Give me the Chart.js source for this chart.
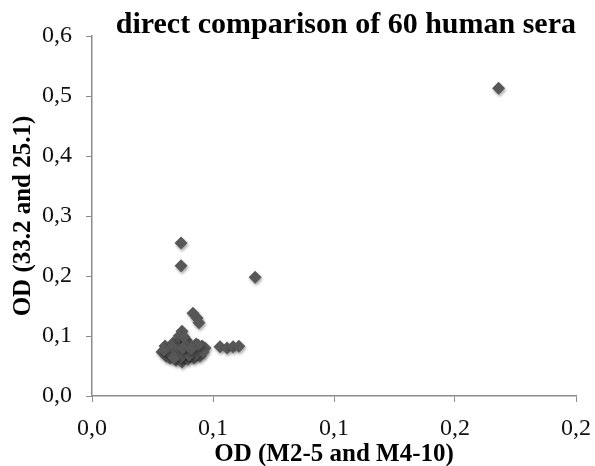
<!DOCTYPE html>
<html lang="en">
<head>
  <meta charset="UTF-8" />
  <title>direct comparison of 60 human sera</title>
  <script src="https://cdn.jsdelivr.net/npm/chart.js"></script>
  <style>
    html, body { margin: 0; padding: 0; background: #fff; }
    #wrap { width: 595px; height: 466px; }
  </style>
</head>
<body>
  <div id="wrap"><canvas id="chart"></canvas></div>

  <script>
    // OD values, M2-5 and M4-10 (x) vs 33.2 and 25.1 (y)
    const odX = [
      0.168, 0.0368, 0.0368, 0.0674, 0.0417, 0.0434, 0.0442, 0.0372,
      0.0529, 0.0558, 0.0583, 0.0607,
      0.0289, 0.0302, 0.0306, 0.0322, 0.0322, 0.0335, 0.0339, 0.0347,
      0.0355, 0.0355, 0.0364, 0.0368, 0.0372, 0.0376, 0.038, 0.0388,
      0.0393, 0.0397, 0.0405, 0.0409, 0.0417, 0.0421, 0.043, 0.0434,
      0.0442, 0.0446, 0.0455, 0.0467, 0.0314, 0.0343, 0.0384, 0.0413,
      0.0397, 0.036, 0.038, 0.0331, 0.0426, 0.0459, 0.0351, 0.0388,
      0.0368, 0.0401, 0.0326, 0.0438, 0.0298, 0.0339, 0.0376, 0.0409
    ];
    const odY = [
      0.513, 0.255, 0.217, 0.198, 0.138, 0.130, 0.122, 0.108,
      0.082, 0.080, 0.082, 0.083,
      0.0733, 0.0833, 0.0667, 0.0783, 0.0633, 0.0883, 0.0717, 0.060,
      0.0833, 0.0683, 0.0933, 0.0767, 0.0567, 0.085, 0.0667, 0.0933,
      0.0767, 0.0617, 0.085, 0.070, 0.080, 0.0633, 0.0867, 0.0733,
      0.080, 0.0667, 0.0833, 0.080, 0.0733, 0.0783, 0.0717, 0.075,
      0.0883, 0.100, 0.0983, 0.0817, 0.0683, 0.0733, 0.075, 0.0833,
      0.065, 0.0683, 0.070, 0.085, 0.0767, 0.0633, 0.080, 0.0783
    ];
    const xTickLabels = ["0,0", "0,1", "0,1", "0,2", "0,2"];
    const yTickLabels = ["0,0", "0,1", "0,2", "0,3", "0,4", "0,5", "0,6"];

    const points = odX.map((x, i) => ({ x: x, y: odY[i] }));

    // soft drop shadow under the diamonds, like the original
    const markerShadow = {
      id: "markerShadow",
      beforeDatasetsDraw(chart) {
        const c = chart.ctx;
        c.save();
        c.shadowColor = "rgba(0,0,0,0.35)";
        c.shadowBlur = 3;
        c.shadowOffsetX = 1;
        c.shadowOffsetY = 2;
      },
      afterDatasetsDraw(chart) {
        chart.ctx.restore();
      }
    };

    const serif = "'Liberation Serif', 'Times New Roman', serif";

    new Chart(document.getElementById("chart"), {
      type: "scatter",
      data: {
        datasets: [{
          label: "sera",
          data: points,
          pointStyle: "rectRot",
          pointRadius: 6.5,
          backgroundColor: "#575757",
          borderColor: "#575757",
          borderWidth: 0
        }]
      },
      plugins: [markerShadow],
      options: {
        responsive: true,
        maintainAspectRatio: false,
        animation: false,
        layout: { padding: { left: 0, right: 19, top: 0, bottom: 0 } },
        plugins: {
          legend: { display: false },
          tooltip: { enabled: false },
          title: {
            display: true,
            text: "direct comparison of 60 human sera",
            align: "end",
            color: "#000",
            font: { family: serif, size: 30, weight: "bold", lineHeight: 1.0 },
            padding: { top: 10, bottom: -4 }
          }
        },
        scales: {
          x: {
            type: "linear",
            min: 0,
            max: 0.2,
            afterFit: (s) => {
              s.height = 70;
              s.paddingLeft = 0;
              s.paddingRight = 0;
            },
            ticks: {
              stepSize: 0.05,
              color: "#111",
              font: { family: serif, size: 24 },
              padding: 12,
              callback: (v, i) => xTickLabels[i]
            },
            grid: {
              drawOnChartArea: false,
              color: "#8c8c8c",
              tickLength: 6
            },
            border: { color: "#8c8c8c", width: 1.5 },
            title: {
              display: true,
              text: "OD (M2-5 and M4-10)",
              color: "#000",
              font: { family: serif, size: 25, weight: "bold", lineHeight: 1.0 },
              padding: { top: 0, bottom: -1 }
            }
          },
          y: {
            type: "linear",
            min: 0,
            max: 0.6,
            afterFit: (s) => { s.width = 92; },
            ticks: {
              stepSize: 0.1,
              color: "#111",
              font: { family: serif, size: 24 },
              padding: 14,
              callback: (v, i) => yTickLabels[i]
            },
            grid: {
              drawOnChartArea: false,
              color: "#8c8c8c",
              tickLength: 6
            },
            border: { color: "#8c8c8c", width: 1.5 },
            title: {
              display: true,
              text: "OD (33.2 and 25.1)",
              color: "#000",
              font: { family: serif, size: 25, weight: "bold", lineHeight: 1.0 },
              padding: { top: 11, bottom: 0 }
            }
          }
        }
      }
    });
  </script>
</body>
</html>
